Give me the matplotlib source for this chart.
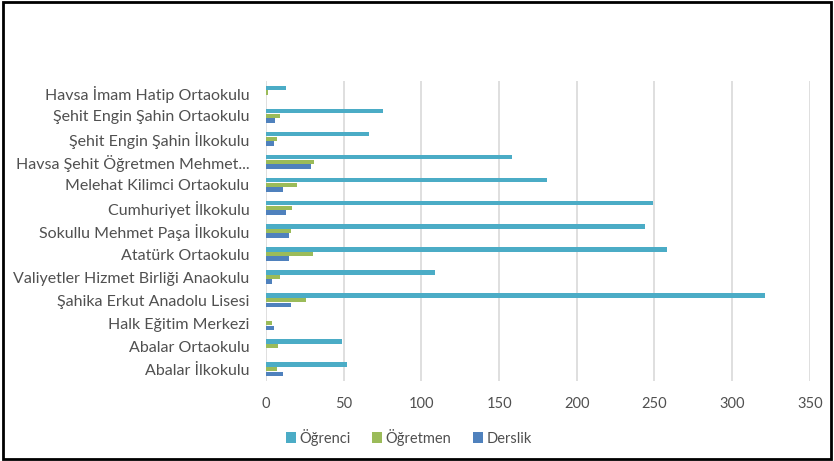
"""Havsa okullari: ogrenci, ogretmen ve derslik sayilari."""

import matplotlib.pyplot as plt
from matplotlib.patches import Rectangle
import numpy as np

plt.rcParams["font.family"] = ["Lato", "DejaVu Sans"]

schools = [
    "Abalar İlkokulu",
    "Abalar Ortaokulu",
    "Halk Eğitim Merkezi",
    "Şahika Erkut Anadolu Lisesi",
    "Valiyetler Hizmet Birliği Anaokulu",
    "Atatürk Ortaokulu",
    "Sokullu Mehmet Paşa İlkokulu",
    "Cumhuriyet İlkokulu",
    "Melehat Kilimci Ortaokulu",
    "Havsa Şehit Öğretmen Mehmet...",
    "Şehit Engin Şahin İlkokulu",
    "Şehit Engin Şahin Ortaokulu",
    "Havsa İmam Hatip Ortaokulu",
]
ogrenci = [52, 49, 0, 321, 109, 258, 244, 249, 181, 158, 66, 75, 13]
ogretmen = [7, 8, 4, 26, 9, 30, 16, 17, 20, 31, 7, 9, 1]
derslik = [11, 0, 5, 16, 4, 15, 15, 13, 11, 29, 5, 6, 0]

series = [("Öğrenci", ogrenci, "#4bacc6"),
          ("Öğretmen", ogretmen, "#9bbb59"),
          ("Derslik", derslik, "#4f81bd")]

text_color = "#505050"

fig = plt.figure(figsize=(8.34, 4.61), dpi=100)
ax = fig.add_axes([0.319, 0.174, 0.652, 0.65])

y = np.arange(len(schools))
h = 0.2
offsets = [h, 0, -h]
for (name, vals, color), off in zip(series, offsets):
    ax.barh(y + off, vals, height=h * 0.95, color=color, label=name, zorder=3)

ax.set_xlim(0, 350)
ax.set_ylim(-0.5, len(schools) - 0.5)
ax.set_xticks(range(0, 351, 50))
ax.set_yticks(y)
ax.set_yticklabels(schools)
ax.grid(axis="x", color="#d9d9d9", linewidth=1.2, zorder=0)
for s in ax.spines.values():
    s.set_visible(False)
ax.tick_params(axis="both", length=0, colors=text_color)
ax.tick_params(axis="x", pad=12, labelsize=10.5)
ax.tick_params(axis="y", pad=12, labelsize=11.5)

fig.legend(loc="center", bbox_to_anchor=(0.49, 0.052), ncol=3, frameon=False,
           fontsize=10.5, handlelength=0.7, handleheight=0.7, handletextpad=0.2,
           columnspacing=1.5, labelcolor=text_color)

fig.patches.append(Rectangle((0.003, 0.005), 0.993, 0.99, transform=fig.transFigure,
                             fill=False, edgecolor="black", linewidth=2))

fig.savefig("out.png", dpi=100)
